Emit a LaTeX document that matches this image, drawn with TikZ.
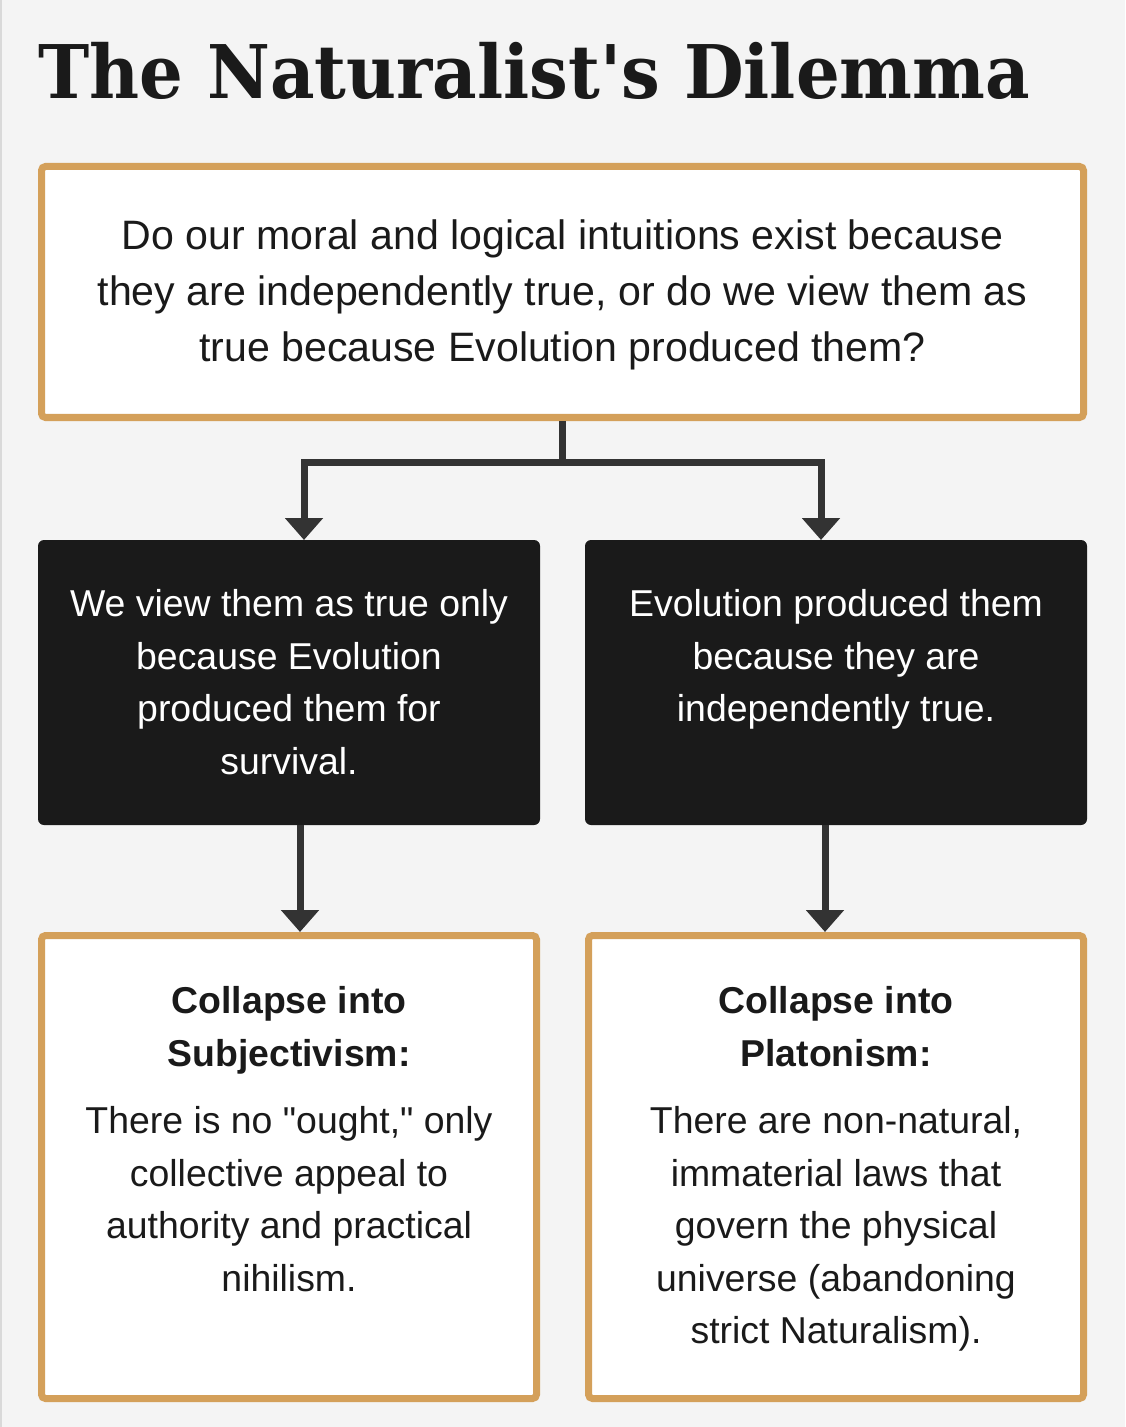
\documentclass[tikz,border=0pt]{standalone}
\usepackage{fontspec}
\setmainfont{Liberation Sans}[Ligatures=TeXOff]
\newfontfamily\titlefont{DejaVu Serif}[Ligatures=TeXOff]
\usepackage{graphicx}
\usepackage{xcolor}
\definecolor{PageBg}{HTML}{F4F4F4}
\definecolor{EdgeGray}{HTML}{D9D9D9}
\definecolor{FrameGold}{HTML}{D4A05A}
\definecolor{InkDark}{HTML}{1A1A1A}
\definecolor{LinkGray}{HTML}{333333}
\usetikzlibrary{positioning, arrows.meta}

\begin{document}
\begin{tikzpicture}[
    x=0.5pt, y=-0.5pt,
    goldbox/.style={draw=FrameGold, fill=white, line width=3.5pt, rounded corners=2pt},
    darkbox/.style={fill=InkDark, rounded corners=3pt, outer sep=0pt, inner sep=0pt,
                    minimum width=251pt, minimum height=142.5pt},
    boxtext/.style={align=center, inner sep=0pt, anchor=north, text=InkDark,
                    font=\fontsize{18.7pt}{26.25pt}\selectfont},
    link/.style={line width=3.5pt, draw=LinkGray},
    arr/.style={link, -{Triangle[width=18.5pt, length=11pt]}}
  ]
    % page
    \fill[PageBg] (0,0) rectangle (1125,1427);
    \fill[EdgeGray] (0,0) rectangle (2,1427);
    \useasboundingbox (0,0) rectangle (1125,1427);

    \node[anchor=base west, inner sep=0pt, text=InkDark,
          font=\titlefont\bfseries\fontsize{37pt}{40pt}\selectfont] (title) at (38,99)
          {\scalebox{0.93}[1]{The Naturalist\symbol{39}s Dilemma}};

    % question
    \node[goldbox, minimum width=521pt, minimum height=125.5pt] (qbox) at (562.5,292) {};
    \node[boxtext, font=\fontsize{20.55pt}{28pt}\selectfont] (qtext) at (562.5,219)
          {Do our moral and logical intuitions exist because\\
           they are independently true, or do we view them as\\
           true because Evolution produced them?};

    % the two answers
    \node[darkbox, below=59.5pt of qbox.south west, anchor=north west] (lhs) {};
    \node[darkbox, below=59.5pt of qbox.south east, anchor=north east] (rhs) {};
    \node[boxtext, text=white] (lhstext) at ([yshift=-24.5pt]lhs.north)
          {We view them as true only\\because Evolution\\produced them for\\survival.};
    \node[boxtext, text=white] (rhstext) at ([yshift=-24.5pt]rhs.north)
          {Evolution produced them\\because they are\\independently true.};

    % the two collapses
    \node[goldbox, minimum width=247.5pt, minimum height=231.5pt, below=53.5pt of lhs] (subj) {};
    \node[goldbox, minimum width=247.5pt, minimum height=231.5pt, below=53.5pt of rhs] (plat) {};
    \node[boxtext] (subjtext) at ([yshift=-27.2pt]subj.north)
          {\textbf{Collapse into}\\\textbf{Subjectivism:}\\[7.5pt]
           There is no \symbol{34}ought,\symbol{34} only\\collective appeal to\\
           authority and practical\\nihilism.};
    \node[boxtext] (plattext) at ([yshift=-27.2pt]plat.north)
          {\textbf{Collapse into}\\\textbf{Platonism:}\\[7.5pt]
           There are non-natural,\\immaterial laws that\\govern the physical\\
           universe (abandoning\\strict Naturalism).};

    \draw[link] (qbox.south) -- ++(0,41) coordinate (fork);
    \draw[arr] (fork) -| ([xshift=7.5pt]lhs.north);
    \draw[arr] (fork) -| ([xshift=-7.5pt]rhs.north);
    \draw[arr] ([xshift=5.5pt]lhs.south) -- ([xshift=5.5pt]subj.north);
    \draw[arr] ([xshift=-5.5pt]rhs.south) -- ([xshift=-5.5pt]plat.north);
  \end{tikzpicture}
\end{document}
